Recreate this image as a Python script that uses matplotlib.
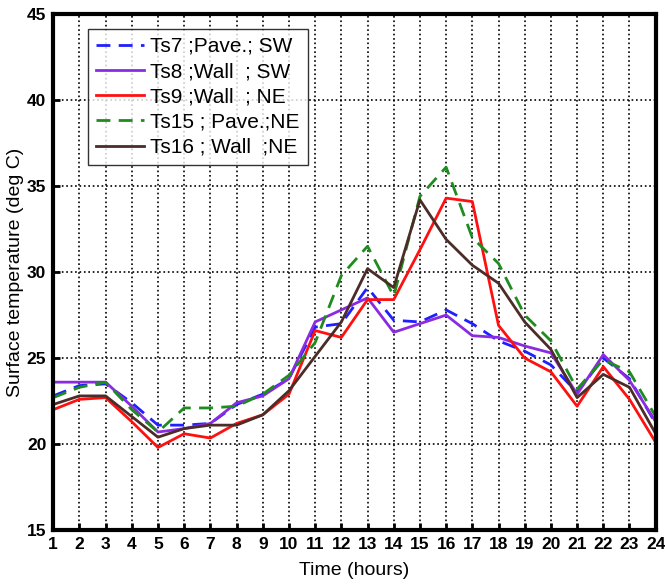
import matplotlib
matplotlib.use("Agg")
import matplotlib.pyplot as plt

plt.rcParams['font.family'] = ['Liberation Sans', 'DejaVu Sans']

hours = list(range(1, 25))

ts7 = [22.8, 23.4, 23.5, 22.4, 21.1, 21.1, 21.2, 22.3, 22.9, 23.8, 26.8, 27.0, 29.1, 27.2,
       27.1, 27.8, 27.0, 26.0, 25.4, 24.6, 23.0, 25.0, 23.8, 21.2]
ts8 = [23.6, 23.6, 23.6, 22.2, 20.7, 20.9, 21.2, 22.4, 22.8, 23.8, 27.1, 27.8, 28.5, 26.5,
       27.0, 27.5, 26.3, 26.2, 25.7, 25.3, 22.9, 25.2, 23.7, 21.3]
ts9 = [22.0, 22.6, 22.7, 21.3, 19.8, 20.6, 20.35, 21.2, 21.7, 22.9, 26.6, 26.2, 28.4, 28.4,
       31.3, 34.3, 34.1, 26.9, 25.0, 24.2, 22.2, 24.5, 22.6, 20.1]
ts15 = [22.7, 23.3, 23.6, 22.0, 20.7, 22.1, 22.1, 22.2, 22.9, 24.0, 25.9, 29.8, 31.5, 28.6,
        34.4, 36.1, 32.0, 30.5, 27.5, 26.0, 23.2, 24.9, 24.2, 21.6]
ts16 = [22.3, 22.8, 22.8, 21.6, 20.4, 20.9, 21.1, 21.1, 21.7, 23.1, 25.1, 27.1, 30.2, 29.1,
        34.2, 31.9, 30.4, 29.35, 27.1, 25.5, 22.7, 24.05, 23.3, 20.6]

labels = ['Ts7 ;Pave.; SW', 'Ts8 ;Wall  ; SW', 'Ts9 ;Wall  ; NE',
          'Ts15 ; Pave.;NE', 'Ts16 ; Wall  ;NE']

fig = plt.figure(figsize=(6.65, 5.87), dpi=100)
ax = fig.add_axes([0.080, 0.097, 0.906, 0.879])

ax.plot(hours, ts7, color='#1f1fff', linestyle='--', linewidth=2, dashes=(5, 3), label=labels[0])
ax.plot(hours, ts8, color='#8a2be2', linestyle='-', linewidth=2, label=labels[1])
ax.plot(hours, ts9, color='#ff1010', linestyle='-', linewidth=2, label=labels[2])
ax.plot(hours, ts15, color='#1e8c1e', linestyle='--', linewidth=2, dashes=(5, 3), label=labels[3])
ax.plot(hours, ts16, color='#4b2c28', linestyle='-', linewidth=2, label=labels[4])

ax.set_xlim(1, 24)
ax.set_ylim(15, 45)
ax.set_xticks(hours)
ax.set_yticks(range(15, 46, 5))
ax.tick_params(direction='in', length=5, width=2, labelsize=12.5, pad=5)
for lab in ax.get_xticklabels() + ax.get_yticklabels():
    lab.set_fontweight('bold')
ax.grid(True, linestyle=':', color='black', linewidth=1.2)
for sp in ax.spines.values():
    sp.set_linewidth(3)

ax.set_xlabel('Time (hours)', fontsize=14, labelpad=7)
ax.set_ylabel('Surface temperature (deg C)', fontsize=14, labelpad=2)

leg = ax.legend(loc='upper left', bbox_to_anchor=(0.04, 0.992), fontsize=15, frameon=True,
                fancybox=False, edgecolor='black', handlelength=2.3, handletextpad=0.3,
                borderpad=0.4, labelspacing=0.3)
leg.get_frame().set_linewidth(1)

fig.savefig('out.png', dpi=100)
